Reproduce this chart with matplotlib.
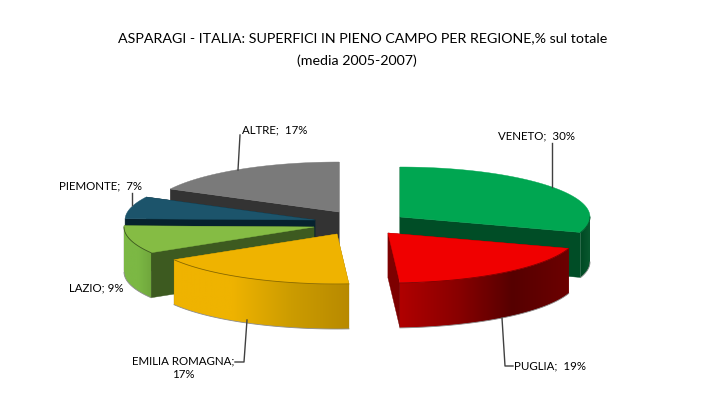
import numpy as np
import matplotlib
matplotlib.use('Agg')
import matplotlib.pyplot as plt
from matplotlib.colors import LinearSegmentedColormap
from matplotlib.patches import Polygon

plt.rcParams['font.family'] = ['Lato', 'DejaVu Sans']

# clockwise from 12 o'clock; shares carry one decimal so they sum to 100
regions = ['VENETO', 'PUGLIA', 'EMILIA ROMAGNA', 'LAZIO', 'PIEMONTE', 'ALTRE']
shares = [30.0, 19.0, 17.4, 9.0, 7.2, 17.4]
labels = ['VENETO;  30%', 'PUGLIA;  19%', 'EMILIA ROMAGNA;\n17%', 'LAZIO; 9%', 'PIEMONTE;  7%', 'ALTRE;  17%']

title_1 = 'ASPARAGI - ITALIA: SUPERFICI IN PIENO CAMPO PER REGIONE,% sul totale'
title_2 = '(media 2005-2007)'

# look of each slice, rim colours run left to right
top_col = ['#00a651', '#f00000', '#efb300', '#85bc44', '#1c546b', '#7a7a7a']
cut_col = ['#004d26', '#7d0000', '#8a6a00', '#3d5a20', '#06222e', '#333333']
rim_col = [['#004a24', '#0a5a30'],
           ['#b00000', '#8a0000', '#560000', '#6c0000'],
           ['#efb300', '#efb300', '#cc9c00', '#b88a00'],
           ['#7cb844', '#7cb844', '#6fa63c'],
           ['#06222e', '#06222e'],
           ['#333333', '#333333']]

# exploded position of each apex, in pixels
apex = [(400, 217), (388, 233), (337, 234), (314, 227), (315, 220), (339, 212)]
RX, RY, DEPTH = 190, 50, 45

draw_order = [5, 0, 4, 3, 1, 2]

label_pos = [(536.5, 136), (550, 366), (183, 368), (96.5, 288), (100.5, 186), (274.5, 130)]
leaders = [[(552, 143), (552, 187)],
           [(502, 318), (505, 366), (513, 366)],
           [(247, 320), (244, 362), (235, 362)],
           [],
           [(132, 193), (132, 205)],
           [(240, 135), (238, 170)]]


def rim_point(center, ang):
    a = np.radians(ang)
    return center[0] + RX * np.sin(a), center[1] - RY * np.cos(a)


def draw_slice(ax, i, start, end, z):
    c = apex[i]
    angs = np.linspace(start, end, 120)
    px, py = rim_point(c, angs)

    # the two cut faces, they go under the top and the rim
    for ang in (start, end):
        x, y = rim_point(c, ang)
        ax.add_patch(Polygon([c, (x, y), (x, y + DEPTH), (c[0], c[1] + DEPTH)],
                             fc=cut_col[i], ec=cut_col[i], lw=0.3, zorder=z))

    # outer rim, only the front half of the ellipse shows
    a0, a1 = max(start, 90), min(end, 270)
    if a1 > a0:
        steps = np.linspace(a0, a1, 90)
        rx, ry = rim_point(c, steps)
        outline = list(zip(rx, ry)) + list(zip(rx[::-1], ry[::-1] + DEPTH))
        cmap = LinearSegmentedColormap.from_list('rim', rim_col[i])
        im = ax.imshow(np.linspace(0, 1, 256).reshape(1, -1), cmap=cmap, aspect='auto',
                       extent=(rx.min(), rx.max(), ry.max() + DEPTH, ry.min()), zorder=z + 0.1)
        im.set_clip_path(Polygon(outline, transform=ax.transData))
        ax.plot(rx, ry + DEPTH, color='#8c8c8c', lw=0.6, zorder=z + 0.2)

    ax.add_patch(Polygon([c] + list(zip(px, py)), fc=top_col[i], ec=top_col[i], lw=0.3, zorder=z + 0.3))
    if a1 > a0:
        ax.plot(rx, ry, color=cut_col[i], lw=0.6, zorder=z + 0.4)


fig = plt.figure(figsize=(7.05, 4.05), dpi=100)
ax = fig.add_axes([0, 0, 1, 1])

edges = np.concatenate([[0], np.cumsum(shares)]) / sum(shares) * 360
for n, i in enumerate(draw_order):
    draw_slice(ax, i, edges[i], edges[i + 1], n + 1)

for pts in leaders:
    if pts:
        ax.plot(*zip(*pts), color='#404040', lw=1, zorder=10)

for txt, pos in zip(labels, label_pos):
    ax.text(pos[0], pos[1], txt, ha='center', va='center', fontsize=8.3,
            color='black', linespacing=1.25, zorder=11)

ax.text(362.5, 38, title_1, ha='center', va='center', fontsize=10.3, color='black')
ax.text(356.5, 61, title_2, ha='center', va='center', fontsize=10.3, color='black')

ax.set_xlim(0, 705)
ax.set_ylim(405, 0)
ax.axis('off')

fig.savefig('out.png', dpi=100)
